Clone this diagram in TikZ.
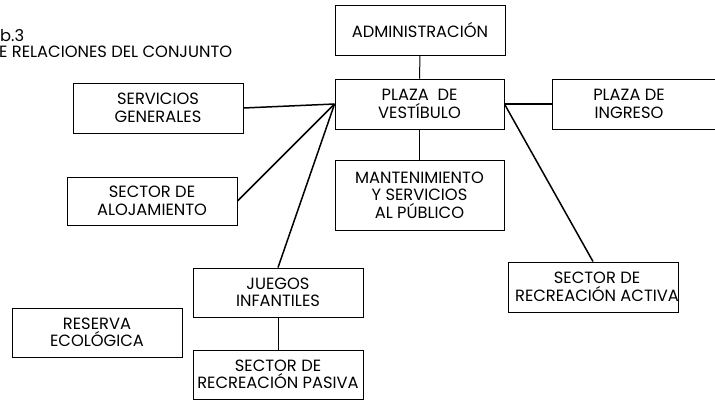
\documentclass[tikz,border=0pt]{standalone}
\usepackage{fontspec}
\setmainfont{Poppins}
\begin{document}
\begin{tikzpicture}[x=1pt,y=-1pt,
  txt/.style={inner sep=0pt,align=center,font=\fontsize{16.3}{17.5}\selectfont},
  box/.style={txt,draw,line width=0.9pt,rectangle},
  link/.style={line width=1.5pt},
  thin link/.style={line width=1pt},
  ttl/.style={anchor=base west,inner sep=0pt,font=\fontsize{16.3}{17}\selectfont}]
\useasboundingbox (0,0) rectangle (715,400);
\node[box,minimum width=170pt,minimum height=50pt] (admin) at (420,30) {ADMINISTRACIÓN};
\node[box,minimum width=169pt,minimum height=50pt] (vest) at (419.5,104) {PLAZA\ \ DE\\VESTÍBULO};
\node[box,minimum width=170pt,minimum height=50pt] (ingreso) at (637,104) {};
\node[txt] (ingresoT) at (629,104) {PLAZA DE\\INGRESO};
\node[box,minimum width=170pt,minimum height=50pt] (serv) at (158,108) {SERVICIOS\\GENERALES};
\node[box,minimum width=170pt,minimum height=48pt] (aloj) at (152,201) {SECTOR DE\\ALOJAMIENTO};
\node[box,minimum width=169pt,minimum height=70pt] (mant) at (419.5,195) {MANTENIMIENTO\\Y SERVICIOS\\AL PÚBLICO};
\node[box,minimum width=170pt,minimum height=49pt] (juegos) at (278,292.5) {JUEGOS\\INFANTILES};
\node[box,minimum width=170pt,minimum height=49pt] (pasiva) at (278,374.5) {SECTOR DE\\RECREACIÓN PASIVA};
\node[box,minimum width=170pt,minimum height=49pt] (reserva) at (97,332.5) {RESERVA\\ECOLÓGICA};
\node[box,minimum width=170pt,minimum height=50pt] (activa) at (593,287) {};
\node[txt] (activaT) at (597,287) {SECTOR DE\\RECREACIÓN ACTIVA};
\node[ttl] (t1) at (0,41) {b.3};
\node[ttl] (t2) at (-1,57) {E RELACIONES DEL CONJUNTO};
\draw[thin link] (admin.south) -- (vest.north);
\draw[link] (vest.east) -- (ingreso.west |- vest.east);
\draw[link] (serv.east) -- (vest.west);
\draw[link] (aloj.east) -- (vest.west);
\draw[link] (vest.west) -- (juegos.north);
\draw[link] (vest.south) -- (mant.north);
\draw[link] (vest.east) -- (activa.north);
\draw[thin link] (juegos.south) -- (pasiva.north);
\end{tikzpicture}
\end{document}
